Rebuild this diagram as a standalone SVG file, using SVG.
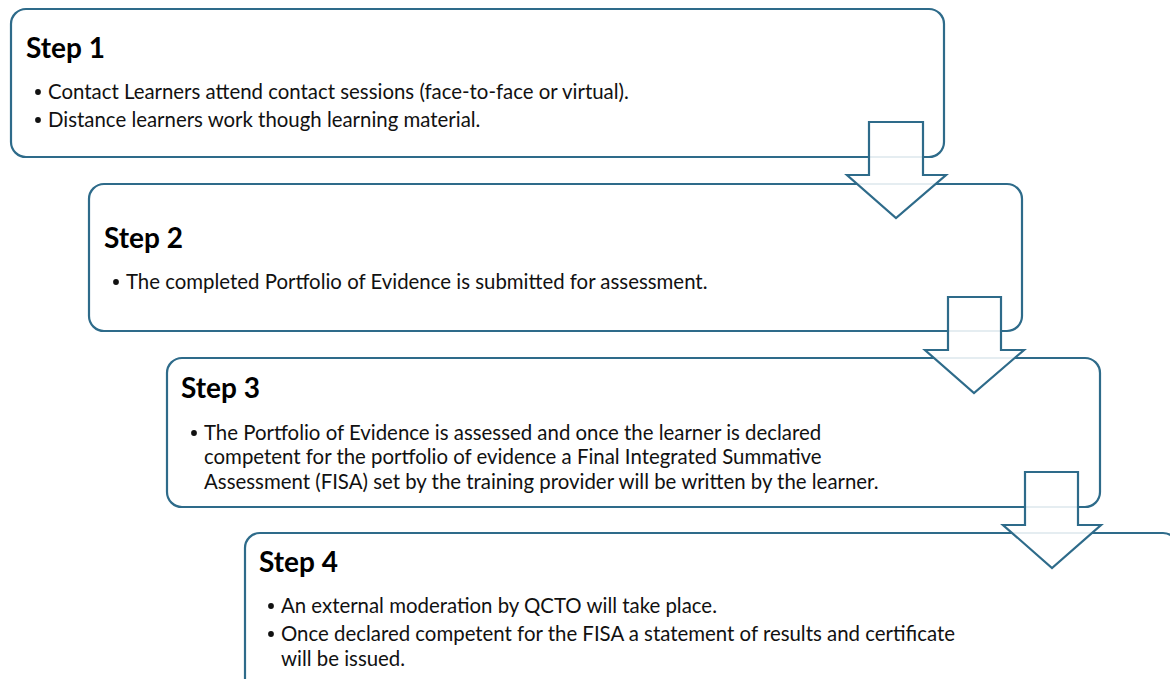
<svg xmlns="http://www.w3.org/2000/svg" width="1170" height="679" viewBox="0 0 1170 679">
<style>
.box{fill:#ffffff;stroke:#2e6b8a;stroke-width:2.2}
.arrow{fill:#ffffff;fill-opacity:0.88;stroke:#2e6b8a;stroke-width:2.2;stroke-linejoin:miter}
.h{font-family:Lato,"Open Sans",sans-serif;font-weight:bold;font-size:28px;fill:#000}
.t{font-family:Lato,"Open Sans",sans-serif;font-size:20.4px;fill:#111}
</style>
<rect width="1170" height="679" fill="#ffffff"/>
<g id="step1">
<rect class="box" x="11" y="9" width="933" height="148" rx="15"/>
<text class="h" x="26" y="58">Step 1</text>
<circle cx="38" cy="92" r="2.9" fill="#111"/>
<text class="t" x="48" y="99">Contact Learners attend contact sessions (face-to-face or virtual).</text>
<circle cx="38" cy="120" r="2.9" fill="#111"/>
<text class="t" x="48" y="127">Distance learners work though learning material.</text>
</g>
<g id="step2">
<rect class="box" x="89" y="184" width="933" height="147" rx="15"/>
<text class="h" x="104" y="248">Step 2</text>
<circle cx="116" cy="282" r="2.9" fill="#111"/>
<text class="t" x="126" y="289">The completed Portfolio of Evidence is submitted for assessment.</text>
</g>
<g id="step3">
<rect class="box" x="167" y="358" width="933" height="149" rx="15"/>
<text class="h" x="181" y="398">Step 3</text>
<circle cx="194" cy="433" r="2.9" fill="#111"/>
<text class="t" x="204" y="440">The Portfolio of Evidence is assessed and once the learner is declared</text>
<text class="t" x="204" y="464">competent for the portfolio of evidence a Final Integrated Summative</text>
<text class="t" x="204" y="489">Assessment (FISA) set by the training provider will be written by the learner.</text>
</g>
<g id="step4">
<rect class="box" x="245" y="533" width="933" height="160" rx="15"/>
<text class="h" x="259" y="572">Step 4</text>
<circle cx="271" cy="606" r="2.9" fill="#111"/>
<text class="t" x="281" y="613">An external moderation by QCTO will take place.</text>
<circle cx="271" cy="634" r="2.9" fill="#111"/>
<text class="t" x="281" y="641">Once declared competent for the FISA a statement of results and certificate</text>
<text class="t" x="281" y="666">will be issued.</text>
</g>
<g id="connectors">
<path class="arrow" d="M869,122 H923 V175 H946 L896,218 L847,175 H869 Z"/>
<path class="arrow" d="M948,297 H1001 V350 H1024 L974,393 L925,350 H948 Z"/>
<path class="arrow" d="M1025,472 H1078 V525 H1101 L1052,568 L1003,525 H1025 Z"/>
</g>
</svg>
